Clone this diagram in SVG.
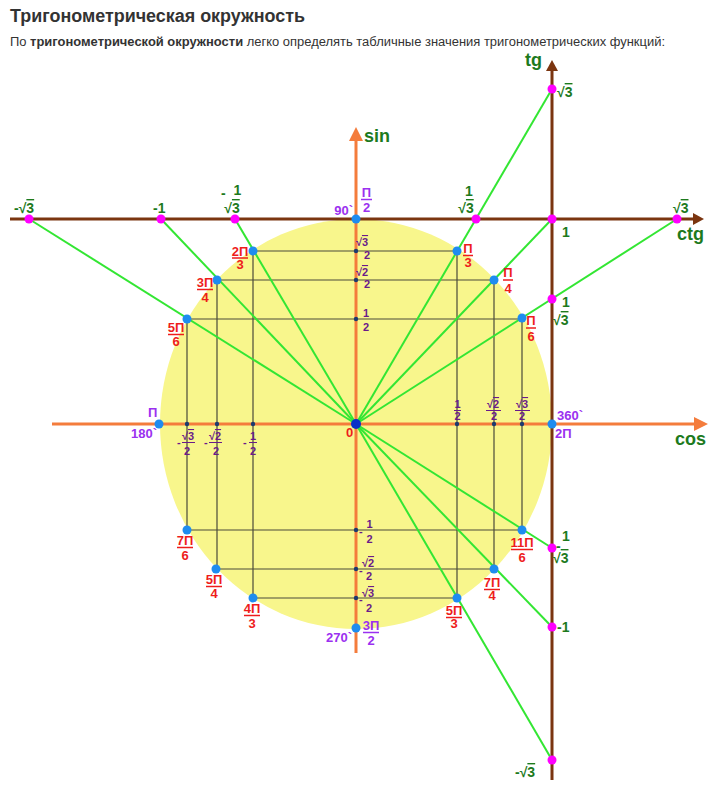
<svg xmlns="http://www.w3.org/2000/svg" width="719" height="792" viewBox="0 0 719 792">
<style>
text{font-family:"Liberation Sans",Arial,sans-serif;font-weight:bold}
.ttl{font-size:18px;fill:#333}
.sub{font-size:12.5px;font-weight:normal;fill:#333}
.sub tspan{font-weight:bold}
.r{font-size:13px;fill:#ee1c1c;text-anchor:middle}
.p{font-size:13px;fill:#9b30f0}
.pm{font-size:13px;fill:#9b30f0;text-anchor:middle}
.v{font-size:11px;fill:#6a1b8a;text-anchor:middle}
.vs{font-size:11px;fill:#6a1b8a}
.g{font-size:14px;fill:#1d7a1d}
.gm{font-size:14px;fill:#1d7a1d;text-anchor:middle}
.ax{font-size:18px;fill:#1d7a1d}
.ov{text-decoration:overline}
.rb{stroke:#ee1c1c;stroke-width:1.5}
.pb{stroke:#9b30f0;stroke-width:1.5}
.vb{stroke:#6a1b8a;stroke-width:1}
.grid{stroke:#4a4a3a;stroke-width:1.2}
.gl{stroke:#33e633;stroke-width:2}
.oa{stroke:#f47c3c;stroke-width:3}
.ba{stroke:#7b3510;stroke-width:3}
.bd{fill:#1e8cf0}
.md{fill:#ff00ff}
.sd{fill:#1b3b6f}
</style>
<rect width="719" height="792" fill="#ffffff"/>
<g id="header">
<text class="ttl" x="10" y="22" textLength="295" lengthAdjust="spacingAndGlyphs">Тригонометрическая окружность</text>
<text class="sub" x="10" y="46" textLength="655" lengthAdjust="spacingAndGlyphs">По <tspan>тригонометрической окружности</tspan> легко определять табличные значения тригонометрических функций:</text>
</g>
<g id="circle"><ellipse cx="356" cy="424" rx="196" ry="205" fill="#f8f68c"/></g>
<g id="grid">
<line class="grid" x1="253" y1="251" x2="457" y2="251"/>
<line class="grid" x1="217" y1="280" x2="494" y2="280"/>
<line class="grid" x1="187" y1="319" x2="522" y2="319"/>
<line class="grid" x1="187" y1="530" x2="522" y2="530"/>
<line class="grid" x1="216" y1="569" x2="494" y2="569"/>
<line class="grid" x1="253" y1="598" x2="457" y2="598"/>
<line class="grid" x1="187" y1="319" x2="187" y2="530"/>
<line class="grid" x1="217" y1="280" x2="217" y2="569"/>
<line class="grid" x1="253" y1="251" x2="253" y2="598"/>
<line class="grid" x1="457" y1="251" x2="457" y2="598"/>
<line class="grid" x1="494" y1="280" x2="494" y2="569"/>
<line class="grid" x1="522" y1="319" x2="522" y2="530"/>
</g>
<g id="axes">
<line class="oa" x1="52" y1="424" x2="696" y2="424"/>
<polygon points="708,424 694,417 694,431" fill="#f47c3c"/>
<line class="oa" x1="356" y1="653" x2="356" y2="139"/>
<polygon points="356,127 349,141 363,141" fill="#f47c3c"/>
<line class="ba" x1="10" y1="219" x2="694" y2="219"/>
<polygon points="704,219 693,213 693,225" fill="#7b3510"/>
<line class="ba" x1="552" y1="780" x2="552" y2="70"/>
<polygon points="552,60 546,71 558,71" fill="#7b3510"/>
</g>
<g id="connectors">
<line class="gl" x1="552" y1="89" x2="356" y2="424"/>
<line class="gl" x1="677" y1="219" x2="356" y2="424"/>
<line class="gl" x1="552" y1="219" x2="356" y2="424"/>
<line class="gl" x1="235" y1="219" x2="356" y2="424"/>
<line class="gl" x1="161" y1="219" x2="356" y2="424"/>
<line class="gl" x1="29" y1="219" x2="356" y2="424"/>
<line class="gl" x1="356" y1="424" x2="552" y2="548"/>
<line class="gl" x1="356" y1="424" x2="552" y2="627"/>
<line class="gl" x1="356" y1="424" x2="552" y2="760"/>
</g>
<g id="axis-ticks">
<circle class="sd" cx="356" cy="251" r="2.2"/><circle class="sd" cx="356" cy="280" r="2.2"/><circle class="sd" cx="356" cy="319" r="2.2"/>
<circle class="sd" cx="356" cy="530" r="2.2"/><circle class="sd" cx="356" cy="569" r="2.2"/><circle class="sd" cx="356" cy="598" r="2.2"/>
<circle class="sd" cx="187" cy="424" r="2.2"/><circle class="sd" cx="217" cy="424" r="2.2"/><circle class="sd" cx="253" cy="424" r="2.2"/>
<circle class="sd" cx="457" cy="424" r="2.2"/><circle class="sd" cx="494" cy="424" r="2.2"/><circle class="sd" cx="522" cy="424" r="2.2"/>
</g>
<g id="circle-points">
<circle class="bd" cx="356" cy="219" r="4.5"/><circle class="bd" cx="159" cy="424" r="4.5"/><circle class="bd" cx="552" cy="424" r="4.5"/><circle class="bd" cx="356" cy="628" r="4.5"/>
<circle class="bd" cx="457" cy="251" r="4.5"/><circle class="bd" cx="494" cy="280" r="4.5"/><circle class="bd" cx="522" cy="318" r="4.5"/>
<circle class="bd" cx="253" cy="251" r="4.5"/><circle class="bd" cx="217" cy="280" r="4.5"/><circle class="bd" cx="187" cy="319" r="4.5"/>
<circle class="bd" cx="187" cy="530" r="4.5"/><circle class="bd" cx="216" cy="569" r="4.5"/><circle class="bd" cx="253" cy="598" r="4.5"/>
<circle class="bd" cx="522" cy="530" r="4.5"/><circle class="bd" cx="494" cy="569" r="4.5"/><circle class="bd" cx="457" cy="598" r="4.5"/>
<circle cx="356" cy="424" r="5" fill="#0a2fc8"/>
</g>
<g id="tan-points">
<circle class="md" cx="29" cy="219" r="4.5"/><circle class="md" cx="161" cy="219" r="4.5"/><circle class="md" cx="235" cy="219" r="4.5"/>
<circle class="md" cx="476" cy="219" r="4.5"/><circle class="md" cx="552" cy="219" r="4.5"/><circle class="md" cx="677" cy="219" r="4.5"/>
<circle class="md" cx="552" cy="89" r="4.5"/><circle class="md" cx="552" cy="299" r="4.5"/><circle class="md" cx="552" cy="548" r="4.5"/>
<circle class="md" cx="552" cy="627" r="4.5"/><circle class="md" cx="552" cy="760" r="4.5"/>
</g>
<g id="axis-names">
<text class="ax" x="364" y="142">sin</text>
<text class="ax" x="675" y="445">cos</text>
<text class="ax" x="677" y="240">ctg</text>
<text class="ax" x="525" y="66">tg</text>
</g>
<g id="angle-labels">
<text class="r" x="240" y="256">2П</text><line class="rb" x1="232" y1="258" x2="248" y2="258"/><text class="r" x="240" y="269">3</text>
<text class="r" x="468" y="253">П</text><line class="rb" x1="463" y1="255.5" x2="473" y2="255.5"/><text class="r" x="468" y="267">3</text>
<text class="r" x="508" y="277">П</text><line class="rb" x1="503" y1="280" x2="513" y2="280"/><text class="r" x="508" y="293">4</text>
<text class="r" x="531" y="325">П</text><line class="rb" x1="526" y1="328" x2="536" y2="328"/><text class="r" x="531" y="341">6</text>
<text class="r" x="205" y="287">3П</text><line class="rb" x1="197" y1="289.5" x2="213" y2="289.5"/><text class="r" x="205" y="302">4</text>
<text class="r" x="176" y="332">5П</text><line class="rb" x1="168" y1="334.5" x2="184" y2="334.5"/><text class="r" x="176" y="346">6</text>
<text class="r" x="185" y="545">7П</text><line class="rb" x1="177" y1="547.5" x2="193" y2="547.5"/><text class="r" x="185" y="560">6</text>
<text class="r" x="214" y="584">5П</text><line class="rb" x1="206" y1="586.5" x2="222" y2="586.5"/><text class="r" x="214" y="598">4</text>
<text class="r" x="252" y="613">4П</text><line class="rb" x1="244" y1="615.5" x2="260" y2="615.5"/><text class="r" x="252" y="628">3</text>
<text class="r" x="522" y="547">11П</text><line class="rb" x1="511" y1="549.5" x2="533" y2="549.5"/><text class="r" x="522" y="562">6</text>
<text class="r" x="492" y="587">7П</text><line class="rb" x1="484" y1="589.5" x2="500" y2="589.5"/><text class="r" x="492" y="600">4</text>
<text class="r" x="454" y="615">5П</text><line class="rb" x1="446" y1="617.5" x2="462" y2="617.5"/><text class="r" x="454" y="628">3</text>
<text class="r" x="349.5" y="437">0</text>
</g>
<g id="degree-labels">
<text class="p" x="353" y="215" text-anchor="end">90`</text>
<text class="pm" x="366.5" y="197">П</text><line class="pb" x1="361" y1="199.5" x2="372" y2="199.5"/><text class="pm" x="366.5" y="212">2</text>
<text class="p" x="148" y="417">П</text>
<text class="p" x="157" y="438" text-anchor="end">180`</text>
<text class="p" x="557" y="420">360`</text>
<text class="p" x="555" y="438">2П</text>
<text class="p" x="352" y="642" text-anchor="end">270`</text>
<text class="pm" x="371" y="630">3П</text><line class="pb" x1="363" y1="632.5" x2="379" y2="632.5"/><text class="pm" x="371" y="645">2</text>
</g>
<g id="sin-values">
<text class="v" x="362" y="246">√<tspan class="ov">3</tspan></text><text class="v" x="367" y="259">2</text>
<text class="v" x="362" y="276">√<tspan class="ov">2</tspan></text><text class="v" x="367" y="288">2</text>
<text class="v" x="366" y="317">1</text><text class="v" x="366" y="331">2</text>
<text class="vs" x="359" y="534.5">-</text><text class="v" x="369.5" y="528">1</text><text class="v" x="369.5" y="543">2</text>
<text class="vs" x="359" y="573.5">-</text><text class="v" x="368" y="567">√<tspan class="ov">2</tspan></text><text class="v" x="369" y="580">2</text>
<text class="vs" x="359" y="602.5">-</text><text class="v" x="368" y="597">√<tspan class="ov">3</tspan></text><text class="v" x="369" y="612">2</text>
</g>
<g id="cos-values">
<text class="v" x="457.5" y="408">1</text><line class="vb" x1="454" y1="410.5" x2="461" y2="410.5"/><text class="v" x="457.5" y="420">2</text>
<text class="v" x="493" y="408">√<tspan class="ov">2</tspan></text><line class="vb" x1="486" y1="410.5" x2="501" y2="410.5"/><text class="v" x="494" y="420">2</text>
<text class="v" x="522" y="408">√<tspan class="ov">3</tspan></text><line class="vb" x1="515" y1="410.5" x2="530" y2="410.5"/><text class="v" x="522" y="420">2</text>
<text class="vs" x="177" y="446">-</text><text class="v" x="188" y="440">√<tspan class="ov">3</tspan></text><line class="vb" x1="182" y1="442.5" x2="195" y2="442.5"/><text class="v" x="187" y="455">2</text>
<text class="vs" x="204" y="446">-</text><text class="v" x="215" y="440">√<tspan class="ov">2</tspan></text><line class="vb" x1="209" y1="442.5" x2="222" y2="442.5"/><text class="v" x="216" y="455">2</text>
<text class="vs" x="243" y="446">-</text><text class="v" x="253" y="440">1</text><line class="vb" x1="249" y1="442.5" x2="257" y2="442.5"/><text class="v" x="253" y="455">2</text>
</g>
<g id="tan-values">
<text class="g" x="14" y="213">-√<tspan class="ov">3</tspan></text>
<text class="g" x="153" y="213">-1</text>
<text class="g" x="221" y="198">-</text><text class="gm" x="237.5" y="195">1</text><text class="gm" x="232" y="213">√<tspan class="ov">3</tspan></text>
<text class="gm" x="469" y="196">1</text><text class="gm" x="466" y="213">√<tspan class="ov">3</tspan></text>
<text class="g" x="673" y="213">√<tspan class="ov">3</tspan></text>
<text class="g" x="562" y="237">1</text>
<text class="g" x="557" y="97">√<tspan class="ov">3</tspan></text>
<text class="gm" x="566" y="307">1</text><text class="g" x="553" y="325">√<tspan class="ov">3</tspan></text>
<text class="g" x="556" y="551">-</text><text class="gm" x="566" y="541">1</text><text class="g" x="553" y="563">√<tspan class="ov">3</tspan></text>
<text class="g" x="557" y="632">-1</text>
<text class="g" x="515" y="777">-√<tspan class="ov">3</tspan></text>
</g>
</svg>
